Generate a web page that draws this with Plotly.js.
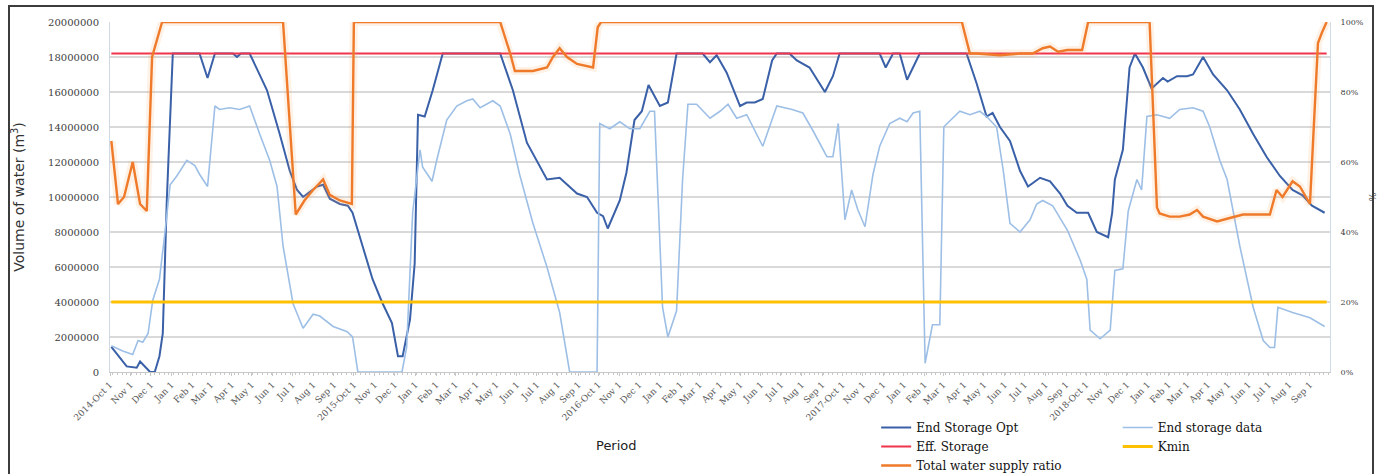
<!DOCTYPE html>
<html>
<head>
<meta charset="utf-8">
<script src="https://cdn.plot.ly/plotly-3.0.1.min.js"></script>
<style>
  html, body { margin:0; padding:0; background:#ffffff; }
  #frame { position:absolute; left:8px; top:5px; width:1366px; height:480px; border:2px solid #3c3c3c; box-sizing:border-box; }
  #chart { position:absolute; left:0; top:0; width:1384px; height:474px; }
</style>
</head>
<body>
<div id="frame"></div>
<div id="chart"></div>
<script>
// ---------- tick labels (monthly, Oct 2014 - Sep 2019) ----------
const tickLabels = [
  '2014-Oct 1','Nov 1','Dec 1','Jan 1','Feb 1','Mar 1','Apr 1','May 1','Jun 1','Jul 1','Aug 1','Sep 1',
  '2015-Oct 1','Nov 1','Dec 1','Jan 1','Feb 1','Mar 1','Apr 1','May 1','Jun 1','Jul 1','Aug 1','Sep 1',
  '2016-Oct 1','Nov 1','Dec 1','Jan 1','Feb 1','Mar 1','Apr 1','May 1','Jun 1','Jul 1','Aug 1','Sep 1',
  '2017-Oct 1','Nov 1','Dec 1','Jan 1','Feb 1','Mar 1','Apr 1','May 1','Jun 1','Jul 1','Aug 1','Sep 1',
  '2018-Oct 1','Nov 1','Dec 1','Jan 1','Feb 1','Mar 1','Apr 1','May 1','Jun 1','Jul 1','Aug 1','Sep 1'
];

// ---------- End Storage Opt (m3) ----------
const optDates = ['2014-10-03','2014-10-26','2014-11-10','2014-11-15','2014-11-30','2014-12-07','2014-12-14','2014-12-19','2014-12-25','2015-01-03',
  '2015-02-12','2015-02-24','2015-03-07','2015-04-03','2015-04-09','2015-04-15','2015-04-28','2015-05-24','2015-06-12','2015-06-27',
  '2015-07-08','2015-07-17','2015-08-07','2015-08-16','2015-08-26','2015-09-10','2015-09-22','2015-09-29','2015-10-14','2015-10-29',
  '2015-11-12','2015-11-27','2015-12-06','2015-12-13','2015-12-24','2015-12-31','2016-01-05','2016-01-15','2016-01-27','2016-02-11',
  '2016-05-07','2016-05-26','2016-06-16','2016-07-16','2016-08-04','2016-08-15','2016-08-30','2016-09-14','2016-09-29','2016-10-08',
  '2016-10-15','2016-11-02','2016-11-12','2016-11-24','2016-12-05','2016-12-15','2017-01-01','2017-01-13','2017-01-26','2017-03-06',
  '2017-03-17','2017-03-27','2017-04-11','2017-05-01','2017-05-11','2017-05-23','2017-06-04','2017-06-18','2017-06-25','2017-07-14',
  '2017-07-25','2017-08-13','2017-09-05','2017-09-17','2017-09-27','2017-11-26','2017-12-05','2017-12-16','2017-12-26','2018-01-06',
  '2018-01-25','2018-04-05','2018-04-20','2018-05-05','2018-05-14','2018-05-25','2018-06-09','2018-06-24','2018-07-06','2018-07-24',
  '2018-08-08','2018-08-23','2018-09-03','2018-09-17','2018-10-04','2018-10-17','2018-11-03','2018-11-09','2018-11-13','2018-11-25',
  '2018-12-05','2018-12-13','2018-12-25','2019-01-07','2019-01-24','2019-01-31','2019-02-14','2019-03-01','2019-03-10','2019-03-25',
  '2019-04-09','2019-04-30','2019-05-19','2019-06-08','2019-06-28','2019-07-18','2019-08-06','2019-08-21','2019-09-04','2019-09-23'];
const optValues = [1440000,320000,250000,600000,0,0,900000,2200000,9800000,18200000,
  18200000,16800000,18200000,18200000,18000000,18200000,18200000,16100000,13600000,11500000,
  10400000,10000000,10600000,10700000,9900000,9600000,9500000,9100000,7200000,5300000,
  4000000,2800000,900000,900000,3000000,6200000,14700000,14600000,16100000,18200000,
  18200000,16100000,13100000,11000000,11100000,10700000,10200000,10000000,9100000,8900000,
  8200000,9800000,11400000,14400000,14900000,16400000,15200000,15400000,18200000,18200000,
  17700000,18100000,17100000,15200000,15400000,15400000,15600000,17800000,18200000,18200000,
  17800000,17400000,16000000,16900000,18200000,18200000,17400000,18200000,18200000,16700000,
  18200000,18200000,16500000,14600000,14800000,14000000,13200000,11500000,10600000,11100000,
  10900000,10200000,9500000,9100000,9100000,8000000,7700000,9100000,11000000,12700000,
  17400000,18200000,17400000,16200000,16800000,16600000,16900000,16900000,17000000,18000000,
  17000000,16100000,15000000,13600000,12300000,11200000,10400000,10100000,9500000,9100000];

// ---------- End storage data (m3) ----------
const dataDates = ['2014-10-03','2014-10-20','2014-11-04','2014-11-12','2014-11-19','2014-11-27','2014-12-04','2014-12-14','2014-12-22','2014-12-30',
  '2015-01-09','2015-01-24','2015-02-05','2015-02-12','2015-02-24','2015-03-07','2015-03-14','2015-03-29','2015-04-13','2015-04-28',
  '2015-05-13','2015-05-28','2015-06-08','2015-06-17','2015-07-02','2015-07-17','2015-08-01','2015-08-11','2015-08-31','2015-09-21',
  '2015-09-29','2015-10-07','2015-12-12','2015-12-19','2015-12-28','2016-01-03','2016-01-08','2016-01-12','2016-01-26','2016-02-02',
  '2016-02-17','2016-03-03','2016-03-18','2016-03-27','2016-04-07','2016-04-26','2016-05-07','2016-05-22','2016-06-05','2016-06-25',
  '2016-07-16','2016-08-04','2016-08-19','2016-09-29','2016-10-03','2016-10-18','2016-11-02','2016-11-17','2016-12-02','2016-12-17',
  '2016-12-24','2017-01-05','2017-01-13','2017-01-26','2017-02-04','2017-02-12','2017-02-25','2017-03-17','2017-04-01','2017-04-13',
  '2017-04-26','2017-05-11','2017-06-04','2017-06-25','2017-07-18','2017-08-03','2017-08-18','2017-09-08','2017-09-17','2017-09-25',
  '2017-10-05','2017-10-15','2017-10-24','2017-11-04','2017-11-11','2017-11-16','2017-11-26','2017-12-11','2017-12-26','2018-01-06',
  '2018-01-15','2018-01-25','2018-02-02','2018-02-13','2018-02-24','2018-03-02','2018-03-07','2018-03-26','2018-04-10','2018-04-25',
  '2018-05-05','2018-05-20','2018-05-30','2018-06-09','2018-06-24','2018-07-09','2018-07-19','2018-07-28','2018-08-12','2018-09-03',
  '2018-09-22','2018-10-02','2018-10-07','2018-10-22','2018-11-06','2018-11-13','2018-11-25','2018-12-03','2018-12-16','2018-12-23',
  '2018-12-31','2019-01-15','2019-02-03','2019-02-18','2019-03-10','2019-03-25','2019-04-04','2019-04-19','2019-04-30','2019-05-19',
  '2019-06-08','2019-06-23','2019-07-03','2019-07-10','2019-07-15','2019-08-06','2019-09-01','2019-09-23'];
const dataValues = [1500000,1200000,1000000,1800000,1700000,2200000,4100000,5300000,7900000,10700000,
  11200000,12100000,11800000,11300000,10600000,15200000,15000000,15100000,15000000,15200000,
  13600000,12100000,10600000,7200000,3900000,2500000,3300000,3200000,2600000,2300000,
  2000000,0,0,1400000,9100000,11000000,12700000,11700000,10900000,12100000,
  14400000,15200000,15500000,15600000,15100000,15500000,15200000,13600000,11300000,8500000,
  6000000,3400000,0,0,14200000,13900000,14300000,13900000,13900000,14900000,
  14900000,3700000,2000000,3500000,11000000,15300000,15300000,14500000,14900000,15300000,
  14500000,14700000,12900000,15200000,15000000,14800000,13800000,12300000,12300000,14200000,
  8700000,10400000,9300000,8300000,10000000,11300000,12900000,14200000,14500000,14300000,
  14800000,14900000,500000,2700000,2700000,14000000,14200000,14900000,14700000,14900000,
  14600000,14000000,11500000,8500000,8000000,8700000,9600000,9800000,9500000,8100000,
  6400000,5300000,2400000,1900000,2400000,5800000,5900000,9200000,11000000,10400000,
  14600000,14700000,14500000,15000000,15100000,14900000,14000000,12100000,11000000,7200000,
  3700000,1800000,1400000,1400000,3700000,3400000,3100000,2600000];

// ---------- Total water supply ratio (fraction, right axis) ----------
const supplyDates = ['2014-10-03','2014-10-13','2014-10-22','2014-11-04','2014-11-15','2014-11-25','2014-12-03','2014-12-18','2015-06-17','2015-07-06',
  '2015-07-19','2015-08-01','2015-08-16','2015-08-26','2015-09-10','2015-09-28','2015-10-01','2016-05-07','2016-05-22','2016-05-29',
  '2016-06-25','2016-07-16','2016-07-25','2016-08-04','2016-08-15','2016-08-30','2016-09-23','2016-09-30','2016-10-05','2018-03-29',
  '2018-04-10','2018-04-20','2018-05-25','2018-06-24','2018-07-13','2018-07-28','2018-08-08','2018-08-20','2018-09-03','2018-09-25',
  '2018-10-04','2019-01-04','2019-01-15','2019-01-19','2019-02-03','2019-02-18','2019-03-05','2019-03-16','2019-03-25','2019-04-15',
  '2019-05-04','2019-05-24','2019-06-13','2019-07-03','2019-07-13','2019-07-22','2019-08-06','2019-08-17','2019-09-01','2019-09-13',
  '2019-09-19','2019-09-26'];
const supplyRatio = [0.66,0.48,0.50,0.60,0.48,0.46,0.90,1.00,1.00,0.45,
  0.49,0.52,0.55,0.506,0.49,0.48,1.00,1.00,0.91,0.86,
  0.86,0.87,0.90,0.925,0.90,0.88,0.87,0.985,1.00,1.00,
  0.91,0.91,0.905,0.91,0.91,0.925,0.93,0.915,0.92,0.92,
  1.00,1.00,0.47,0.453,0.444,0.444,0.45,0.463,0.444,0.43,
  0.44,0.45,0.45,0.45,0.52,0.50,0.545,0.53,0.48,0.94,
  0.97,1.00];

// ---------- constant levels ----------
const limitDates = ['2014-10-03','2019-09-26'];
const effStorage = [18200000, 18200000];
const kmin = [4000000, 4000000];

// tick positions: first day of each month from Oct 2014
const tickVals = tickLabels.map((_, i) => {
  const d = new Date(Date.UTC(2014, 9 + i, 1));
  return d.toISOString().slice(0, 10);
});

const serif = 'DejaVu Serif';
const sans = 'DejaVu Sans';

const traces = [
  { x: optDates, y: optValues, name: 'End Storage Opt', type: 'scatter', mode: 'lines',
    line: { color: '#3a60a8', width: 2 }, legend: 'legend' },
  { x: dataDates, y: dataValues, name: 'End storage data', type: 'scatter', mode: 'lines',
    line: { color: '#9dbfe6', width: 1.6 }, legend: 'legend2' },
  { x: limitDates, y: effStorage, name: 'Eff. Storage', type: 'scatter', mode: 'lines',
    line: { color: '#f0344c', width: 2 }, legend: 'legend' },
  { x: limitDates, y: kmin, name: 'Kmin', type: 'scatter', mode: 'lines',
    line: { color: '#ffc000', width: 3 }, legend: 'legend2' },
  { x: supplyDates, y: supplyRatio, name: 'glow', type: 'scatter', mode: 'lines', yaxis: 'y2',
    line: { color: 'rgba(245,160,90,0.15)', width: 8 }, showlegend: false, hoverinfo: 'skip' },
  { x: supplyDates, y: supplyRatio, name: 'Total water supply ratio', type: 'scatter', mode: 'lines', yaxis: 'y2',
    line: { color: '#ef7a2a', width: 2.4 }, legend: 'legend' }
];

const layout = {
  width: 1384, height: 474,
  margin: { l: 110, r: 54, t: 22, b: 102, autoexpand: false },
  paper_bgcolor: 'rgba(0,0,0,0)',
  plot_bgcolor: 'rgba(0,0,0,0)',
  showlegend: true,
  font: { family: serif, color: '#404040' },
  xaxis: {
    type: 'date', range: ['2014-10-01', '2019-10-01'],
    tickmode: 'array', tickvals: tickVals, ticktext: tickLabels, tickangle: -45,
    tickfont: { family: serif, size: 9, color: '#595959' },
    showgrid: false, zeroline: false,
    showline: true, linecolor: '#c8c8c8', linewidth: 1,
    ticks: 'outside', ticklen: 3, tickcolor: '#c8c8c8',
    minor: { ticks: 'outside', ticklen: 2, dtick: 7 * 86400000, tickcolor: '#c8c8c8', showgrid: false }
  },
  yaxis: {
    range: [0, 20000000], dtick: 2000000, tickformat: 'd',
    tickfont: { family: serif, size: 10, color: '#404040' },
    gridcolor: '#d9d9d9', gridwidth: 1.3, zeroline: false,
    showline: true, linecolor: '#d0d8e4',
    ticklabelstandoff: 8,
    title: { text: 'Volume of water (m<sup>3</sup>)', font: { family: sans, size: 14, color: '#333333' }, standoff: 20 }
  },
  yaxis2: {
    overlaying: 'y', side: 'right', range: [0, 1], dtick: 0.2, tickformat: '.0%',
    tickfont: { family: serif, size: 8, color: '#404040' },
    showgrid: false, zeroline: false,
    showline: true, linecolor: '#d0dcea',
    ticklabelstandoff: 8,
    title: { text: '%', font: { family: serif, size: 9, color: '#404040' }, standoff: 6 }
  },
  legend: {
    x: 0.628, y: -0.117, xanchor: 'left', yanchor: 'top',
    font: { family: serif, size: 12, color: '#111111' },
    bgcolor: 'rgba(0,0,0,0)', traceorder: 'normal'
  },
  legend2: {
    x: 0.826, y: -0.117, xanchor: 'left', yanchor: 'top',
    font: { family: serif, size: 12, color: '#111111' },
    bgcolor: 'rgba(0,0,0,0)', traceorder: 'normal'
  },
  annotations: [{
    text: 'Period', xref: 'paper', yref: 'paper', x: 0.415, y: -0.209,
    xanchor: 'center', yanchor: 'middle', showarrow: false,
    font: { family: sans, size: 13, color: '#222222' }
  }]
};

Plotly.newPlot('chart', traces, layout, { displayModeBar: false, staticPlot: true });
</script>
</body>
</html>
